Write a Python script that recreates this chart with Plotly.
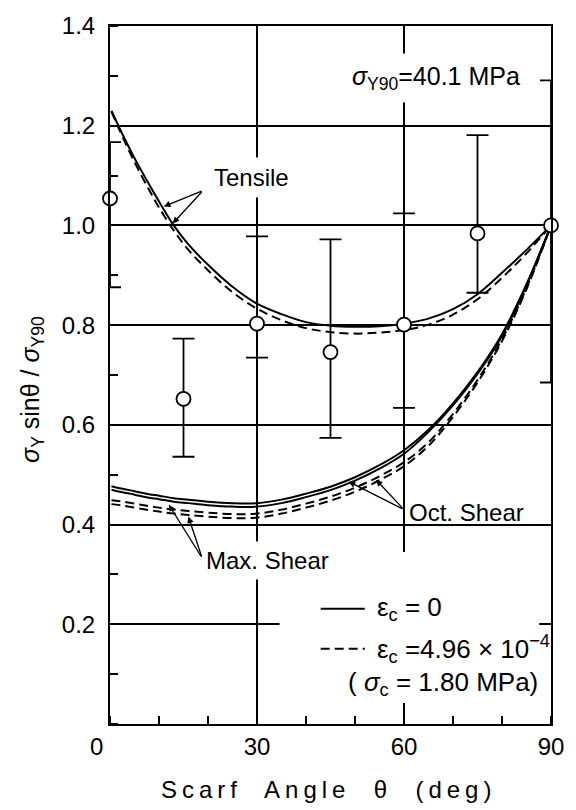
import plotly.graph_objects as go

# Measured yield strength of scarf joints, normalised by sigma_Y90
theta_exp = [0, 15, 30, 45, 60, 75, 90]
ratio_exp = [1.054, 0.652, 0.803, 0.746, 0.801, 0.984, 1.000]
ratio_hi = [1.167, 0.773, 0.978, 0.972, 1.024, 1.181, 1.291]
ratio_lo = [0.876, 0.536, 0.735, 0.574, 0.634, 0.865, 0.685]

# Predicted curves (solid: eps_c = 0, dashed: eps_c = 4.96e-4)
theta_curve = [0.3, 2, 5, 8, 10, 13, 16, 20, 25, 30, 35, 40, 45, 50, 55, 60, 65, 70, 75, 80, 85, 90]
tensile_0 = [1.230, 1.194, 1.135, 1.082, 1.048, 1.000, 0.962, 0.921, 0.877, 0.843, 0.822, 0.806, 0.799,
             0.797, 0.798, 0.803, 0.813, 0.832, 0.862, 0.905, 0.951, 1.000]
tensile_c = [1.228, 1.190, 1.127, 1.071, 1.036, 0.990, 0.951, 0.910, 0.866, 0.833, 0.810, 0.794, 0.786,
             0.783, 0.785, 0.790, 0.801, 0.821, 0.852, 0.895, 0.944, 1.000]
oct_0 = [0.477, 0.473, 0.467, 0.461, 0.458, 0.453, 0.450, 0.446, 0.443, 0.443, 0.450, 0.462, 0.476,
         0.495, 0.519, 0.549, 0.590, 0.643, 0.706, 0.782, 0.882, 1.000]
max_0 = [0.470, 0.466, 0.460, 0.454, 0.451, 0.446, 0.443, 0.439, 0.436, 0.436, 0.443, 0.455, 0.469,
         0.488, 0.512, 0.542, 0.586, 0.639, 0.702, 0.778, 0.880, 1.000]
oct_c = [0.449, 0.447, 0.442, 0.437, 0.434, 0.430, 0.427, 0.424, 0.421, 0.422, 0.430, 0.442, 0.456,
         0.474, 0.497, 0.525, 0.565, 0.622, 0.690, 0.772, 0.875, 1.000]
max_c = [0.441, 0.439, 0.434, 0.429, 0.426, 0.422, 0.419, 0.416, 0.413, 0.414, 0.422, 0.434, 0.448,
         0.466, 0.489, 0.517, 0.558, 0.616, 0.685, 0.768, 0.872, 1.000]

x_ticks = [0, 30, 60, 90]
x_tick_text = ["0\u2007\u2007", "30", "60", "90"]
y_ticks = [0.2, 0.4, 0.6, 0.8, 1.0, 1.2, 1.4]

FONT = "Liberation Sans, Arial, Helvetica, sans-serif"
BLACK = "black"

fig = go.Figure()

solid = dict(color=BLACK, width=2, shape="spline")
dashed = dict(color=BLACK, width=2, shape="spline", dash="9px,5px")

for ys, style in [(tensile_0, solid), (tensile_c, dashed), (oct_0, solid), (max_0, solid),
                  (oct_c, dashed), (max_c, dashed)]:
    fig.add_trace(go.Scatter(x=theta_curve, y=ys, mode="lines", line=style,
                             hoverinfo="skip", showlegend=False))

fig.add_trace(go.Scatter(
    x=theta_exp, y=ratio_exp, mode="markers", showlegend=False, cliponaxis=False,
    marker=dict(symbol="circle", size=14, color="white", line=dict(color=BLACK, width=1.8)),
    error_y=dict(type="data", symmetric=False,
                 array=[h - v for h, v in zip(ratio_hi, ratio_exp)],
                 arrayminus=[v - l for l, v in zip(ratio_lo, ratio_exp)],
                 color=BLACK, thickness=1.8, width=11),
))

# key box
fig.add_shape(type="rect", xref="x", yref="y", x0=34.6, x1=87.6, y0=0.042, y1=0.345,
              layer="between", fillcolor="white", line_width=0)
fig.add_shape(type="line", xref="x", yref="y", x0=43, x1=52, y0=0.231, y1=0.231,
              line=dict(color=BLACK, width=2))
fig.add_shape(type="line", xref="x", yref="y", x0=43, x1=52, y0=0.151, y1=0.151,
              line=dict(color=BLACK, width=2, dash="9px,5px"))


def label(text, x, y, size=24, xanchor="center", bg=None, pad=1, **kw):
    fig.add_annotation(text=text, x=x, y=y, xref="x", yref="y", showarrow=False,
                       xanchor=xanchor, yanchor="middle", bgcolor=bg, borderpad=pad,
                       font=dict(family=FONT, size=size, color=BLACK), **kw)


def pointer(x_tail, y_tail, x_head, y_head):
    fig.add_annotation(text="", x=x_head, y=y_head, ax=x_tail, ay=y_tail,
                       xref="x", yref="y", axref="x", ayref="y", showarrow=True,
                       arrowhead=2, arrowsize=1, arrowwidth=1.3, arrowcolor=BLACK,
                       standoff=0, startstandoff=0)


label("ε<sub>c</sub> = 0", 54, 0.231, size=26, xanchor="left")
label("ε<sub>c</sub> =4.96 × 10<sup>−4</sup>", 54, 0.151, size=26, xanchor="left")
label("( <i>σ</i><sub>c</sub> = 1.80 MPa)", 87.8, 0.082, size=26, xanchor="right")

label("<i>σ</i><sub>Y90</sub>=40.1 MPa", 66.5, 1.295, size=25, bg="white", pad=8)
label("Tensile", 28.8, 1.096, size=24, bg="white", pad=6)
label("Max. Shear", 32.2, 0.327, size=24, bg="white", pad=5)
label("Oct. Shear", 72.8, 0.424, size=24)

pointer(19.0, 1.070, 11.0, 1.038)
pointer(19.0, 1.070, 12.8, 1.004)
pointer(18.8, 0.333, 12.0, 0.440)
pointer(18.8, 0.333, 16.0, 0.416)
pointer(60.0, 0.430, 48.7, 0.486)
pointer(60.0, 0.430, 54.3, 0.490)

# axis titles
fig.add_annotation(text="<i>σ</i><sub>Y</sub> sinθ / <i>σ</i><sub>Y90</sub>",
                   x=-0.1786, y=0.479, xref="paper", yref="paper", showarrow=False,
                   xanchor="center", yanchor="middle",
                   textangle=-90, font=dict(family=FONT, size=25, color=BLACK))
fig.add_annotation(text='<span style="letter-spacing:5px">Scarf  Angle  θ  (deg)</span>',
                   x=0.4955, y=-0.094, xref="paper", yref="paper", showarrow=False,
                   xanchor="center", yanchor="middle",
                   font=dict(family=FONT, size=24, color=BLACK))

axis_common = dict(showline=True, linecolor=BLACK, linewidth=2, mirror=True,
                   showgrid=True, gridcolor=BLACK, gridwidth=1.5, zeroline=False,
                   ticks="", tickfont=dict(family=FONT, size=24, color=BLACK))

fig.update_xaxes(range=[0, 90], tickvals=x_ticks, ticktext=x_tick_text, ticklabelstandoff=0,
                 minor=dict(dtick=10, ticks="inside", ticklen=8, tickwidth=1.5,
                            tickcolor=BLACK, showgrid=False),
                 **axis_common)
fig.update_yaxes(range=[0, 1.4], tickvals=y_ticks, tickformat=".1f", ticklabelstandoff=8,
                 minor=dict(dtick=0.1, ticks="inside", ticklen=8, tickwidth=1.5,
                            tickcolor=BLACK, showgrid=False),
                 **axis_common)

fig.update_layout(width=576, height=810, autosize=False,
                  margin=dict(l=110, r=18, t=21, b=86),
                  paper_bgcolor="white", plot_bgcolor="white",
                  font=dict(family=FONT, color=BLACK))

fig.write_html("out.html")
